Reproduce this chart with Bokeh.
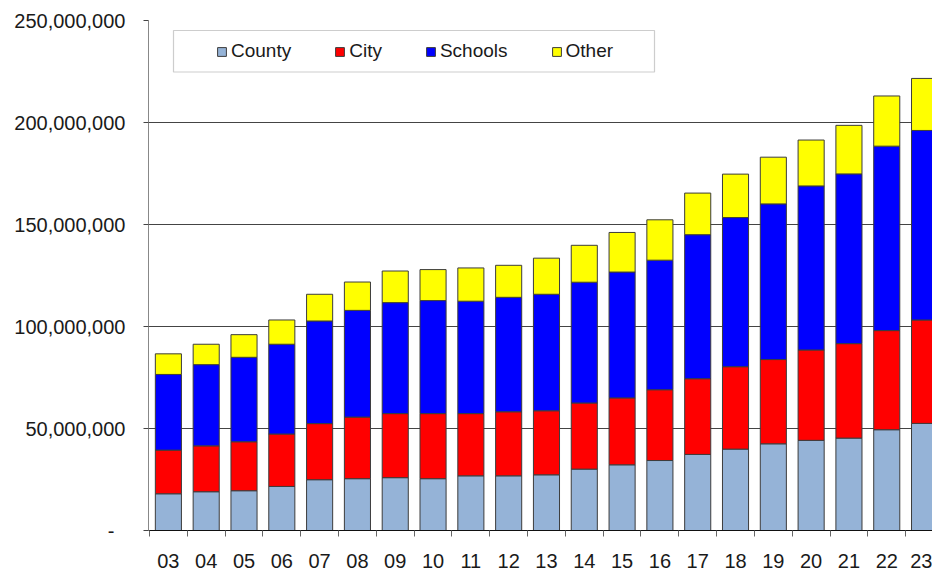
from bokeh.plotting import figure
from bokeh.models import ColumnDataSource, Range1d, FixedTicker, BoxAnnotation, NumeralTickFormatter
from bokeh.embed import file_html
from bokeh.resources import INLINE

# Fiscal years
years = ["03", "04", "05", "06", "07", "08", "09", "10", "11", "12", "13",
         "14", "15", "16", "17", "18", "19", "20", "21", "22", "23"]

# Values in millions of dollars
county = [18.0, 19.0, 19.5, 21.6, 24.9, 25.4, 25.9, 25.4, 26.8, 26.8, 27.3,
          30.1, 32.2, 34.3, 37.3, 39.9, 42.5, 44.2, 45.3, 49.4, 52.5]
city = [21.4, 22.5, 24.0, 25.7, 27.5, 30.2, 31.4, 31.9, 30.5, 31.4, 31.4,
        32.4, 32.8, 34.7, 37.1, 40.4, 41.3, 44.3, 46.3, 48.6, 50.7]
schools = [37.1, 39.8, 41.4, 44.0, 50.3, 52.3, 54.4, 55.4, 55.1, 56.1, 57.1,
           59.2, 61.7, 63.5, 70.6, 73.1, 76.3, 80.4, 83.2, 90.4, 92.9]
other = [10.1, 10.0, 11.1, 11.9, 13.1, 13.9, 15.5, 15.2, 16.3, 15.7, 17.7,
         18.1, 19.4, 19.8, 20.4, 21.3, 22.9, 22.5, 23.8, 24.6, 25.5]

series_names = ["County", "City", "Schools", "Other"]
series_colors = ["#95B3D7", "#FF0000", "#0000FF", "#FFFF00"]
y_ticks = [0, 50000000, 100000000, 150000000, 200000000, 250000000]

MILLION = 1000000
xs = list(range(len(years)))
source = ColumnDataSource(data=dict(
    x=xs,
    County=[v * MILLION for v in county],
    City=[v * MILLION for v in city],
    Schools=[v * MILLION for v in schools],
    Other=[v * MILLION for v in other],
))

p = figure(width=932, height=571, output_backend="svg", toolbar_location=None,
           x_range=Range1d(-0.526, 20.21), y_range=Range1d(0, 250000000),
           min_border_left=148, min_border_right=0, min_border_top=20, min_border_bottom=41)
p.outline_line_color = None
p.background_fill_color = "white"

# legend frame (drawn box)
frame_box = BoxAnnotation(left=173, right=654, top=30, bottom=71.5,
                          left_units="canvas", right_units="canvas",
                          top_units="canvas", bottom_units="canvas",
                          fill_color="white", fill_alpha=1.0,
                          line_color="#5a5a5a", line_width=1.2, level="underlay")
p.add_layout(frame_box)

p.vbar_stack(series_names, x="x", width=0.69, source=source,
             fill_color=series_colors, line_color="#3c3c3c", line_width=1,
             legend_label=series_names)

font = "Liberation Sans"

# Y axis
p.yaxis.ticker = FixedTicker(ticks=y_ticks)
p.yaxis.formatter = NumeralTickFormatter(format="0,0")
p.yaxis.major_label_overrides = {0: "-\u00a0\u00a0"}
p.yaxis.major_label_text_font = font
p.yaxis.major_label_text_font_size = "20px"
p.yaxis.major_label_text_color = "#1a1a1a"
p.yaxis.major_label_standoff = 18
p.yaxis.axis_line_color = "#888888"
p.yaxis.major_tick_line_color = "#444444"
p.yaxis.major_tick_out = 5
p.yaxis.major_tick_in = 0
p.yaxis.minor_tick_line_color = None

# X axis
p.xaxis.ticker = FixedTicker(ticks=xs, minor_ticks=[i - 0.5 for i in range(len(years) + 1)])
p.xaxis.major_label_overrides = {i: years[i] for i in xs}
p.xaxis.major_label_text_font = font
p.xaxis.major_label_text_font_size = "20px"
p.xaxis.major_label_text_color = "#1a1a1a"
p.xaxis.major_label_standoff = 17
p.xaxis.axis_line_color = "#111111"
p.xaxis.major_tick_out = 0
p.xaxis.major_tick_in = 0
p.xaxis.minor_tick_out = 6
p.xaxis.minor_tick_in = 0
p.xaxis.minor_tick_line_color = "#666666"

# Grid
p.xgrid.visible = False
p.ygrid.grid_line_color = "#444444"
p.ygrid.grid_line_width = 1

# Legend
lg = p.legend[0]
lg.orientation = "horizontal"
lg.location = (68, 468)
lg.glyph_width = 11
lg.glyph_height = 11
lg.label_standoff = 4
lg.spacing = 43
lg.padding = 0
lg.margin = 0
lg.border_line_color = None
lg.background_fill_alpha = 0
lg.label_text_font = font
lg.label_text_font_size = "19px"
lg.label_text_color = "#1a1a1a"

open("out.html", "w").write(file_html(p, INLINE))
